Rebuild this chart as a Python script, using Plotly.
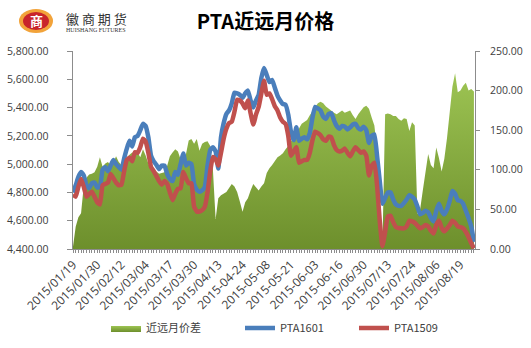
import pandas as pd
import plotly.graph_objects as go

# ---------------- data ----------------
HOLIDAYS = ["2015-02-18", "2015-02-19", "2015-02-20", "2015-02-23", "2015-02-24",
            "2015-04-06", "2015-05-01", "2015-06-22"]
DATES = [d.strftime("%Y-%m-%d") for d in
         pd.bdate_range("2015-01-19", "2015-08-26", freq="C", holidays=HOLIDAYS)]

TICK_LABELS = ["2015/01/19", "2015/01/30", "2015/02/12", "2015/03/04", "2015/03/17",
               "2015/03/30", "2015/04/13", "2015-04-24", "2015-05-08", "2015-05-21",
               "2015-06-03", "2015-06-16", "2015/06/30", "2015/07/13", "2015/07/24",
               "2015/08/06", "2015/08/19"]

PTA1601 = [4800, 4850, 4910, 4945, 4920, 4850, 4830, 4865, 4870, 4835,
           4840, 4960, 4980, 4950, 4990, 5030, 5000, 4980, 4960, 5040,
           5110, 5165, 5125, 5190, 5200, 5240, 5285, 5270, 5190, 5060,
           5020, 4995, 4965, 4990, 4990, 4930, 4895, 4880, 4945, 4925,
           5000, 5075, 4990, 5010, 5000, 4860, 4820, 4805, 4815, 4840,
           4990, 5100, 5120, 5090, 4970, 5190, 5290, 5355, 5380, 5430,
           5505, 5500, 5490, 5470, 5500, 5520, 5450, 5400, 5450, 5490,
           5610, 5680, 5630, 5580, 5595, 5540, 5485, 5450, 5425, 5420,
           5350, 5230, 5170, 5260, 5165, 5180, 5190, 5175, 5220, 5330,
           5405, 5395, 5380, 5335, 5320, 5355, 5360, 5310, 5270, 5250,
           5270, 5265, 5245, 5260, 5280, 5285, 5255, 5245, 5265, 5240,
           5150, 5200, 5210, 5060, 4880, 4720, 4760, 4800, 4800, 4750,
           4715, 4705, 4705, 4725, 4750, 4780, 4770, 4750, 4700, 4645,
           4655, 4670, 4660, 4620, 4595, 4670, 4720, 4670, 4645, 4680,
           4740, 4810, 4790, 4745, 4740, 4720, 4670, 4620, 4560, 4450]

PTA1509 = [4785, 4770, 4840, 4895, 4840, 4770, 4790, 4805, 4770, 4730,
           4715, 4850, 4860, 4870, 4930, 4900, 4870, 4850, 4855, 4950,
           5030, 5045, 5020, 5085, 5080, 5120, 5180, 5160, 5080, 4980,
           4950, 4915, 4880, 4855, 4880, 4860, 4800, 4745, 4790, 4825,
           4830, 4945, 4900, 4865, 4865, 4700, 4665, 4665, 4675, 4700,
           4800, 4950, 5050, 5035, 4990, 5080, 5180, 5250, 5290, 5300,
           5370, 5455, 5450, 5430, 5395, 5450, 5360, 5280, 5350, 5405,
           5500, 5590, 5490, 5500, 5460, 5410, 5380, 5330, 5300, 5285,
           5200, 5060, 5090, 5120, 5010, 5020, 5030, 5030, 5080, 5170,
           5230, 5220, 5205, 5175, 5165, 5195, 5190, 5135, 5100, 5090,
           5095, 5110, 5080, 5055, 5090, 5120, 5100, 5080, 5090, 5060,
           4920, 4990, 5010, 4850, 4600, 4420, 4520, 4630, 4635, 4590,
           4555, 4548, 4546, 4546, 4560, 4600, 4595, 4585, 4565, 4546,
           4555, 4570, 4560, 4530, 4510, 4570, 4600, 4550, 4525, 4545,
           4570, 4600, 4585, 4560, 4555, 4546, 4520, 4485, 4440, 4405]

SPREAD = [3, 28, 40, 45, 80, 90, 94, 95, 97, 104,
          116, 104, 108, 110, 105, 109, 117, 110, 106, 111,
          115, 119, 122, 121, 122, 116, 126, 118, 108, 101,
          100, 98, 95, 96, 97, 105, 117, 122, 126, 123,
          113, 112, 120, 137, 139, 133, 139, 124, 133, 135,
          136, 130, 100, 38, 64, 68, 70, 72, 77, 82,
          79, 72, 60, 47, 59, 64, 74, 82, 78, 74,
          79, 83, 96, 102, 106, 111, 116, 118, 121, 126,
          130, 136, 141, 146, 152, 158, 160, 163, 169, 174,
          180, 184, 186, 184, 180, 177, 175, 172, 170, 173,
          175, 172, 174, 175, 169, 164, 170, 174, 179, 181,
          177, 166, 156, 125, 70, 5, 170, 171, 170, 168,
          168, 164, 162, 165, 164, 149, 160, 156, 44, 50,
          74, 98, 120, 106, 102, 128, 115, 98, 114, 140,
          170, 205, 222, 198, 200, 206, 210, 200, 202, 199]

# tick label every 9 trading days
LABEL_STEP = 9
tick_text = []
for i, d in enumerate(DATES):
    if i % LABEL_STEP == 0 and i // LABEL_STEP < len(TICK_LABELS):
        tick_text.append(TICK_LABELS[i // LABEL_STEP])
    else:
        tick_text.append("")

# ---------------- figure ----------------
W, H = 531, 348
L, R, T, B = 73, 56, 51, 99
PW, PH = W - L - R, H - T - B


def px(x):
    return (x - L) / PW


def py(y):
    return (H - B - y) / PH


AXIS_GREY = "#8c8c8c"
TEXT = "#404040"
FONT = "Open Sans"
NBSP = "\u00a0"

fig = go.Figure()
fig.add_trace(go.Scatter(
    x=DATES, y=SPREAD, name="近远月价差", mode="lines",
    line=dict(width=0, color="#86ad3c"), fill="tozeroy",
    fillcolor="#86ad3c",
    fillgradient=dict(type="vertical",
                      colorscale=[[0, "#6d8f2c"], [1, "#9dc453"]]),
    yaxis="y", legend="legend"))
fig.add_trace(go.Scatter(
    x=DATES, y=PTA1601, name="PTA1601", mode="lines",
    line=dict(width=4.5, color="#4a7ebb", shape="spline", smoothing=0.4),
    yaxis="y2", legend="legend2"))
fig.add_trace(go.Scatter(
    x=DATES, y=PTA1509, name="PTA1509", mode="lines",
    line=dict(width=4.5, color="#c0504d", shape="spline", smoothing=0.4),
    yaxis="y2", legend="legend3"))

leg_common = dict(orientation="h", xanchor="left", y=py(328), yanchor="middle",
                  itemwidth=30, bgcolor="rgba(0,0,0,0)",
                  font=dict(family="Noto Sans CJK SC", size=11, color=TEXT))

fig.update_layout(
    width=W, height=H,
    margin=dict(l=L, r=R, t=T, b=B, pad=0, autoexpand=False),
    paper_bgcolor="white", plot_bgcolor="white",
    font=dict(family=FONT, size=10, color=TEXT),
    showlegend=True,
    title=dict(text="<b>PTA近远月价格</b>", x=0.5, xanchor="center",
               y=1 - 22 / H, yanchor="middle",
               font=dict(family="Noto Sans CJK SC", size=20, color="#000000")),
    xaxis=dict(type="category", tickmode="array", tickvals=DATES, ticktext=tick_text,
               range=[0, len(DATES) - 0.6], showline=True, linecolor=AXIS_GREY,
               linewidth=1, ticks="outside", ticklen=3, tickcolor=AXIS_GREY,
               tickangle=-45, showgrid=False, zeroline=False, automargin=False,
               tickfont=dict(family=FONT, size=12, color=TEXT)),
    yaxis=dict(side="right", range=[0, 250], dtick=50, tickformat=".2f",
               showline=True, linecolor=AXIS_GREY, ticks="outside", ticklen=4,
               tickcolor=AXIS_GREY, showgrid=False, zeroline=False,
               automargin=False, ticklabelstandoff=8,
               tickfont=dict(family=FONT, size=10.5, color=TEXT)),
    yaxis2=dict(overlaying="y", side="left", range=[4400, 5800], dtick=200,
                tickformat=",.2f", ticksuffix=NBSP * 6, showline=True,
                linecolor=AXIS_GREY, ticks="outside", ticklen=5,
                tickcolor=AXIS_GREY, showgrid=False, zeroline=False,
                automargin=False,
                tickfont=dict(family=FONT, size=10.5, color=TEXT)),
    legend=dict(x=px(106), **leg_common),
    legend2=dict(x=px(240), **leg_common),
    legend3=dict(x=px(354), **leg_common),
)

# ---------------- logo ----------------
fig.add_shape(type="circle", xref="paper", yref="paper",
              x0=px(19), x1=px(53), y0=py(33), y1=py(9),
              fillcolor="#f2a33a", line=dict(width=0))
fig.add_shape(type="circle", xref="paper", yref="paper",
              x0=px(23), x1=px(49), y0=py(30), y1=py(12),
              fillcolor="#c8242b", line=dict(width=0))
fig.add_annotation(xref="paper", yref="paper", x=px(36), y=py(21),
                   xanchor="center", yanchor="middle",
                   text="<b>商</b>", showarrow=False,
                   font=dict(family="Noto Sans CJK SC", size=13, color="white"))
fig.add_annotation(xref="paper", yref="paper", x=px(96), y=py(18.5),
                   xanchor="center", yanchor="middle",
                   text="徽 商 期 货", showarrow=False,
                   font=dict(family="Noto Sans CJK SC", size=13, color="#333333"))
fig.add_annotation(xref="paper", yref="paper", x=px(96), y=py(29.5),
                   xanchor="center", yanchor="middle",
                   text="HUISHANG FUTURES", showarrow=False,
                   font=dict(family="Liberation Serif", size=6, color="#333333"))

fig.write_html("out.html")
